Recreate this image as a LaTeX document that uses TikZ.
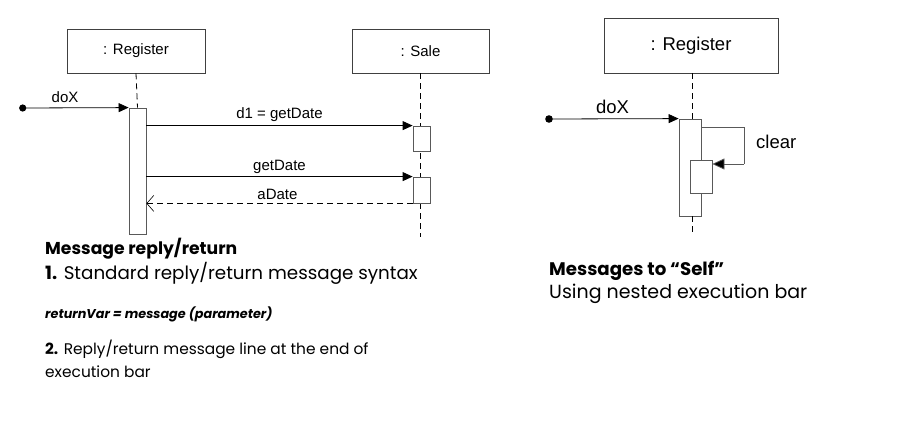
\documentclass[tikz,border=0pt]{standalone}
\usepackage{fontspec}
\setmainfont{Liberation Sans}
\newfontfamily\gothic{Poppins}
\usetikzlibrary{arrows.meta,calc}
\tikzset{
  objbox/.style={draw=black!75, line width=0.8pt, fill=white, minimum width=#1, inner sep=0pt},
  bar/.style={draw=black!65, line width=0.8pt, fill=white, inner sep=0pt},
  life/.style={draw=black, line width=0.8pt, dash pattern=on 6pt off 4pt},
  msg/.style={draw=black, line width=0.8pt, -{Triangle[length=10pt,width=9pt]}},
  ret/.style={draw=black, line width=0.8pt, dash pattern=on 6pt off 4pt, -{Straight Barb[length=7pt,width=16pt,line width=0.6pt]}},
  lbl/.style={font=\fontsize{15}{15}\selectfont, inner sep=0pt},
  rlbl/.style={font=\fontsize{18.5}{18.5}\selectfont, inner sep=0pt},
  note/.style={anchor=base west, inner sep=0pt, font=\gothic}
}
\begin{document}
\begin{tikzpicture}[x=1pt,y=-1pt]
\useasboundingbox (0,0) rectangle (898,423);
% ---------- left diagram ----------
\node[objbox=138pt, minimum height=44pt, font=\fontsize{15}{15}\selectfont] (reg) at (136,51) {: Register};
\node[objbox=137pt, minimum height=44pt, font=\fontsize{15}{15}\selectfont] (sale) at (420.5,51) {: Sale};
\coordinate (saleend) at (420.5,237);
\coordinate (regend) at (137.5,236);
\draw[life] (sale.south) -- (saleend);
\node[bar, minimum width=17pt, minimum height=126pt] (lbar) at (137.5,171) {};
\draw[life] (reg.south) -- (lbar.north);
\node[bar, minimum width=17pt, minimum height=25pt] (act1) at (421.5,138.5) {};
\node[bar, minimum width=17pt, minimum height=26pt] (act2) at (421.5,190) {};
\coordinate (dotL) at (22.7,108);
\fill (dotL) circle (3.6pt);
\draw[msg] (dotL) -- (lbar.north west) node[lbl, pos=0.4, above=5pt] {doX};
\draw[msg] (lbar.east |- act1.north) -- (act1.north west) node[lbl, midway, above=4pt] {d1 = getDate};
\draw[msg] (lbar.east |- act2.north) -- (act2.north west) node[lbl, midway, above=3pt] {getDate};
\draw[ret] (act2.south west) -- (lbar.east |- act2.south) node[lbl, midway, above=3pt, xshift=-2pt] {aDate};
% ---------- right diagram ----------
\node[objbox=174pt, minimum height=55pt, font=\fontsize{18.5}{18.5}\selectfont] (reg2) at (691,45.5) {: Register};
\node[bar, minimum width=22pt, minimum height=97pt] (rbar) at (690,167.5) {};
\coordinate (rend) at (692,232);
\draw[life] (reg2.south -| 692,0) -- (692,119);
\draw[life] (692,216) -- (rend);
\node[bar, minimum width=22pt, minimum height=33pt] (nest) at (701,176.5) {};
\coordinate (dotR) at (549,119);
\fill (dotR) circle (3.8pt);
\draw[msg] (dotR) -- (rbar.north west) node[rlbl, pos=0.49, above=5pt] {doX};
\coordinate (loopTop) at (744,127);
\coordinate (loopBot) at (744,164);
\draw[draw=black!65, line width=0.8pt] (rbar.east |- loopTop) -- (loopTop) -- (loopBot);
\draw[msg, draw=black!65, -{Triangle[length=12pt,width=11pt,fill=black]}] (loopBot) -- (nest.east |- loopBot);
\node[rlbl, anchor=west] (clr) at (756,142) {clear};
% ---------- text ----------
\node[note, font=\gothic\bfseries\fontsize{17.2}{17.2}\selectfont] (t1) at (45,254) {Message reply/return};
\node[note, font=\gothic\fontsize{18.3}{18.3}\selectfont] (t2) at (45,279) {\textbf{1.} Standard reply/return message syntax};
\node[note, font=\gothic\bfseries\itshape\fontsize{12.8}{12.8}\selectfont] (t3) at (45,318) {returnVar = message (parameter)};
\node[note, font=\gothic\fontsize{15.4}{15.4}\selectfont] (t4) at (45,354) {\textbf{2.} Reply/return message line at the end of};
\node[note, font=\gothic\fontsize{15.4}{15.4}\selectfont] (t5) at (45,377) {execution bar};
\node[note, font=\gothic\bfseries\fontsize{18.2}{18.2}\selectfont] (t6) at (549,275) {Messages to “Self”};
\node[note, font=\gothic\fontsize{19}{19}\selectfont] (t7) at (549,298) {Using nested execution bar};
\end{tikzpicture}
\end{document}
